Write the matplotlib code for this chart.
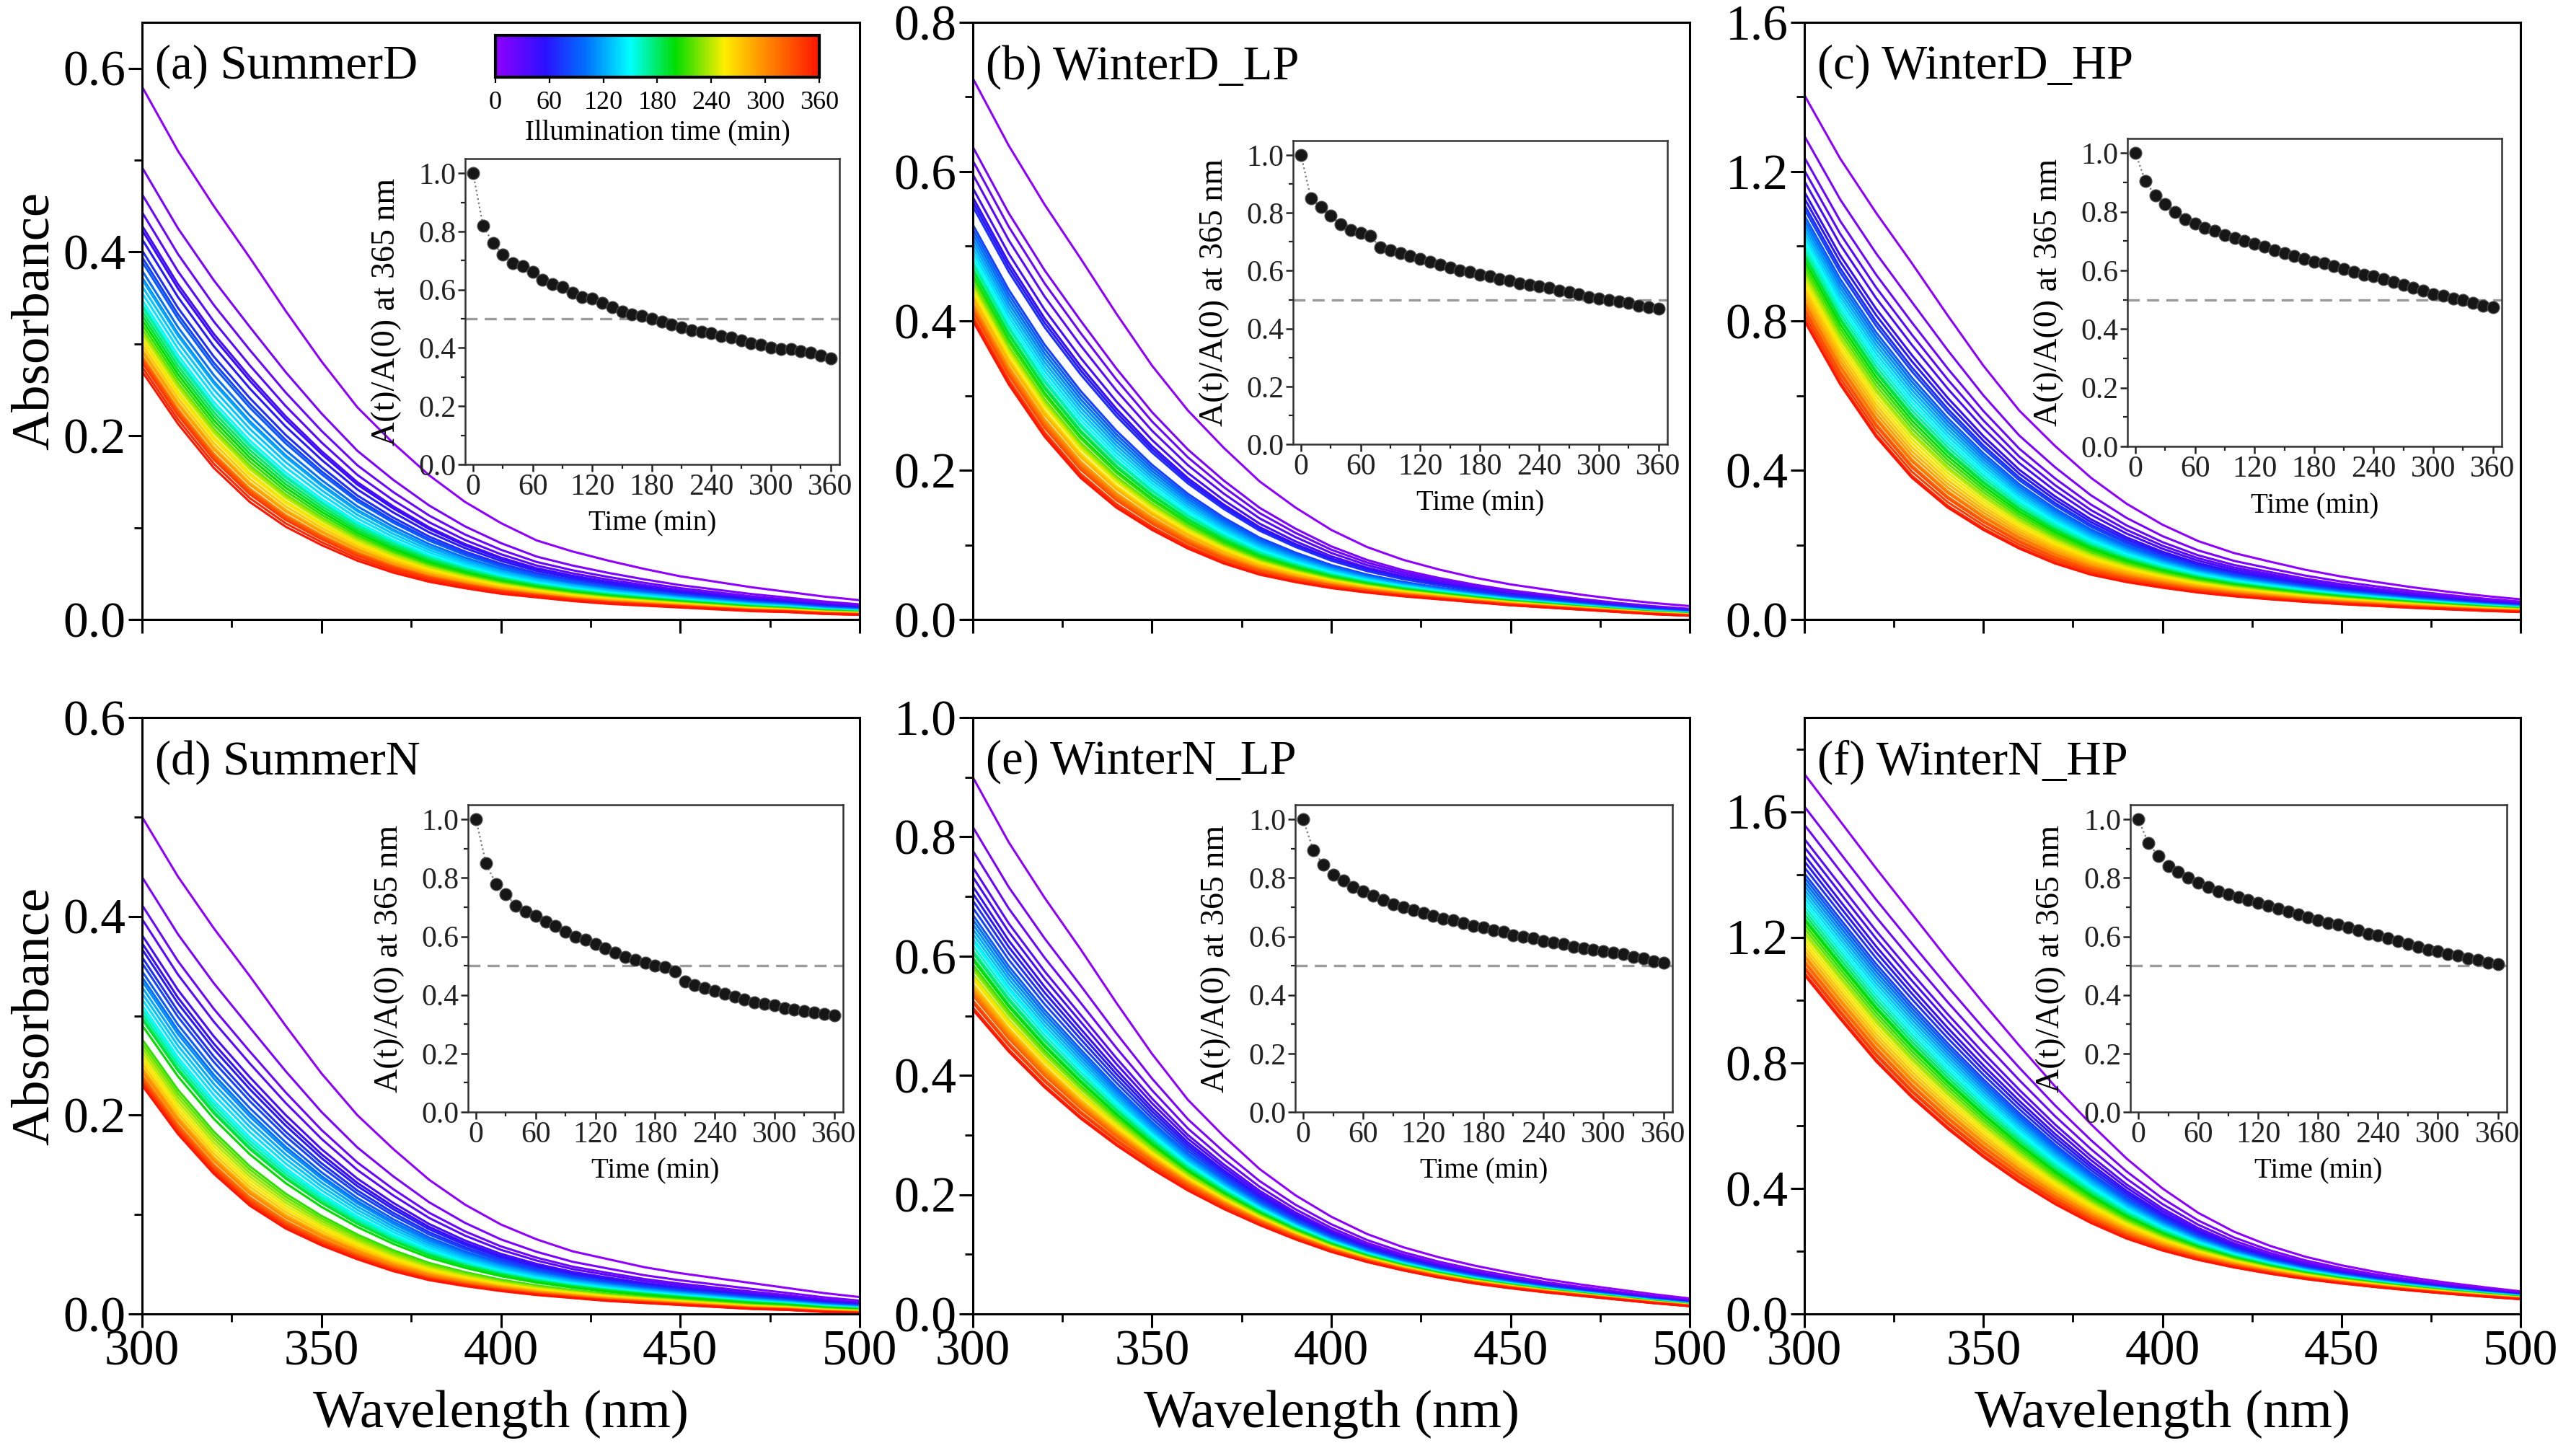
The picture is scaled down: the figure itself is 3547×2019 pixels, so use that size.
import numpy as np
import matplotlib
matplotlib.use('Agg')
import matplotlib.pyplot as plt
from matplotlib.colors import LinearSegmentedColormap, Normalize
from matplotlib.cm import ScalarMappable
from matplotlib.ticker import MultipleLocator, FormatStrFormatter

plt.rcParams['font.family'] = ['Liberation Serif', 'DejaVu Serif']

# wavelength grid (nm) and illumination times (min)
wavelength = [300, 310, 320, 330, 340, 350, 360, 370, 380, 390, 400,
              410, 420, 430, 440, 450, 460, 470, 480, 490, 500]
time_min = list(range(0, 361, 10))

# absorbance spectra: first (0 min) and last (360 min) curve
a_first = [0.58, 0.51, 0.45, 0.394, 0.336, 0.281, 0.231, 0.192, 0.157, 0.128, 0.105,
           0.086, 0.074, 0.064, 0.055, 0.047, 0.041, 0.035, 0.030, 0.025, 0.021]
a_last = [0.27, 0.213, 0.165, 0.128, 0.101, 0.081, 0.064, 0.051, 0.041, 0.034, 0.028,
          0.024, 0.020, 0.017, 0.015, 0.013, 0.011, 0.009, 0.008, 0.006, 0.005]
b_first = [0.725, 0.635, 0.556, 0.484, 0.41, 0.34, 0.28, 0.23, 0.185, 0.15, 0.12,
           0.097, 0.08, 0.067, 0.056, 0.047, 0.04, 0.033, 0.027, 0.022, 0.018]
b_last = [0.40, 0.315, 0.245, 0.19, 0.15, 0.12, 0.095, 0.075, 0.06, 0.05, 0.042,
          0.036, 0.031, 0.027, 0.023, 0.019, 0.016, 0.013, 0.010, 0.007, 0.005]
c_first = [1.405, 1.235, 1.09, 0.955, 0.815, 0.68, 0.56, 0.465, 0.38, 0.31, 0.254,
           0.21, 0.178, 0.155, 0.133, 0.115, 0.10, 0.086, 0.074, 0.063, 0.054]
c_last = [0.80, 0.63, 0.49, 0.38, 0.30, 0.24, 0.19, 0.15, 0.12, 0.10, 0.085,
          0.072, 0.062, 0.054, 0.047, 0.041, 0.036, 0.031, 0.027, 0.023, 0.02]
d_first = [0.50, 0.44, 0.388, 0.34, 0.29, 0.242, 0.20, 0.166, 0.135, 0.11, 0.09,
           0.075, 0.063, 0.055, 0.047, 0.041, 0.036, 0.031, 0.026, 0.021, 0.017]
d_last = [0.23, 0.181, 0.141, 0.109, 0.086, 0.069, 0.055, 0.043, 0.034, 0.028, 0.023,
          0.019, 0.016, 0.013, 0.011, 0.009, 0.007, 0.005, 0.004, 0.002, 0.001]
e_first = [0.90, 0.791, 0.698, 0.612, 0.522, 0.436, 0.359, 0.298, 0.243, 0.199, 0.163,
           0.134, 0.112, 0.095, 0.081, 0.069, 0.058, 0.049, 0.041, 0.033, 0.026]
e_last = [0.51, 0.44, 0.38, 0.328, 0.283, 0.243, 0.207, 0.176, 0.149, 0.125, 0.104,
          0.087, 0.073, 0.061, 0.051, 0.043, 0.036, 0.030, 0.024, 0.018, 0.013]
f_first = [1.72, 1.57, 1.42, 1.275, 1.13, 0.99, 0.855, 0.725, 0.605, 0.495, 0.40,
           0.322, 0.262, 0.217, 0.182, 0.155, 0.133, 0.115, 0.099, 0.085, 0.072]
f_last = [1.08, 0.94, 0.805, 0.69, 0.59, 0.50, 0.42, 0.35, 0.29, 0.24, 0.202,
          0.172, 0.148, 0.128, 0.111, 0.097, 0.085, 0.074, 0.064, 0.055, 0.047]

# A(t)/A(0) at 365 nm (insets), one value per 10 min
a_ratio = [1.0, 0.82, 0.76, 0.72, 0.69, 0.68, 0.66, 0.635, 0.62, 0.61, 0.59, 0.575, 0.57,
           0.555, 0.54, 0.525, 0.515, 0.51, 0.50, 0.49, 0.48, 0.47, 0.46, 0.455, 0.45,
           0.44, 0.435, 0.425, 0.415, 0.41, 0.40, 0.395, 0.395, 0.39, 0.385, 0.375, 0.365]
b_ratio = [1.0, 0.85, 0.82, 0.79, 0.76, 0.74, 0.73, 0.72, 0.68, 0.67, 0.66, 0.65, 0.64,
           0.63, 0.62, 0.61, 0.60, 0.595, 0.585, 0.58, 0.57, 0.565, 0.555, 0.55, 0.545,
           0.54, 0.53, 0.525, 0.52, 0.51, 0.505, 0.50, 0.495, 0.49, 0.48, 0.475, 0.47]
c_ratio = [1.0, 0.905, 0.855, 0.825, 0.80, 0.775, 0.76, 0.745, 0.735, 0.72, 0.71, 0.70, 0.69,
           0.68, 0.67, 0.66, 0.65, 0.64, 0.63, 0.625, 0.615, 0.605, 0.595, 0.585, 0.58,
           0.57, 0.56, 0.55, 0.54, 0.53, 0.52, 0.515, 0.505, 0.50, 0.49, 0.48, 0.475]
d_ratio = [1.0, 0.85, 0.78, 0.745, 0.705, 0.685, 0.67, 0.65, 0.635, 0.615, 0.60, 0.59, 0.575,
           0.56, 0.545, 0.53, 0.52, 0.51, 0.50, 0.495, 0.48, 0.445, 0.435, 0.425, 0.415,
           0.405, 0.395, 0.385, 0.375, 0.37, 0.365, 0.355, 0.35, 0.345, 0.34, 0.335, 0.33]
e_ratio = [1.0, 0.895, 0.845, 0.81, 0.79, 0.77, 0.755, 0.74, 0.725, 0.71, 0.70, 0.69, 0.68,
           0.67, 0.66, 0.655, 0.645, 0.635, 0.63, 0.62, 0.615, 0.605, 0.60, 0.595, 0.585,
           0.58, 0.575, 0.565, 0.56, 0.555, 0.55, 0.545, 0.54, 0.53, 0.525, 0.515, 0.51]
f_ratio = [1.0, 0.92, 0.875, 0.84, 0.82, 0.80, 0.785, 0.77, 0.755, 0.745, 0.735, 0.725, 0.715,
           0.705, 0.695, 0.685, 0.675, 0.665, 0.655, 0.645, 0.64, 0.63, 0.62, 0.61, 0.605,
           0.595, 0.585, 0.575, 0.565, 0.555, 0.55, 0.54, 0.535, 0.525, 0.52, 0.51, 0.505]

titles = ['(a) SummerD', '(b) WinterD_LP', '(c) WinterD_HP',
          '(d) SummerN', '(e) WinterN_LP', '(f) WinterN_HP']
firsts = [a_first, b_first, c_first, d_first, e_first, f_first]
lasts = [a_last, b_last, c_last, d_last, e_last, f_last]
ratios = [a_ratio, b_ratio, c_ratio, d_ratio, e_ratio, f_ratio]
y_top = [0.65, 0.8, 1.6, 0.6, 1.0, 1.9]
y_major = [0.2, 0.2, 0.4, 0.2, 0.2, 0.4]

# rainbow colour scale of the colour bar
cmap = LinearSegmentedColormap.from_list('illum', [
    (0.0, '#8f00ff'), (55/360, '#2b10ff'), (100/360, '#0070ff'), (150/360, '#00ffff'),
    (200/360, '#00dd00'), (255/360, '#ffee00'), (300/360, '#ff8c00'), (1.0, '#ff1500')])
norm = Normalize(0, 360)

W, H = 3548, 2019
def rect(x0, y0, x1, y1):
    return [x0 / W, 1 - y1 / H, (x1 - x0) / W, (y1 - y0) / H]

cols = [(197, 1192), (1349, 2343), (2502, 3495)]
rows = [(31, 859), (995, 1822)]
inset_boxes = [(645, 220, 1164, 644), (1793, 195, 2312, 616), (2950, 192, 3469, 619),
               (649, 1116, 1169, 1542), (1796, 1116, 2319, 1542), (2954, 1116, 3476, 1542)]

fig = plt.figure(figsize=(W / 200, H / 200), dpi=200)

wl = np.array(wavelength)
for i in range(6):
    r, c = divmod(i, 3)
    ax = fig.add_axes(rect(cols[c][0], rows[r][0], cols[c][1], rows[r][1]))
    first = np.array(firsts[i])
    last = np.array(lasts[i])
    ratio = np.array(ratios[i])
    # each intermediate spectrum placed between first and last by the 365 nm ratio
    for k, t in enumerate(time_min):
        w = (ratio[k] - ratio[-1]) / (1 - ratio[-1])
        ax.plot(wl, last + (first - last) * w, color=cmap(norm(t)), lw=1.1,
                solid_joinstyle='round')
    ax.set_xlim(300, 500)
    ax.set_ylim(0, y_top[i])
    ax.xaxis.set_major_locator(MultipleLocator(50))
    ax.xaxis.set_minor_locator(MultipleLocator(25))
    ax.yaxis.set_major_locator(MultipleLocator(y_major[i]))
    ax.yaxis.set_minor_locator(MultipleLocator(y_major[i] / 2))
    ax.yaxis.set_major_formatter(FormatStrFormatter('%.1f'))
    ax.tick_params(which='major', direction='out', length=7, width=1.1, labelsize=25, pad=1)
    ax.tick_params(which='minor', direction='out', length=4, width=1.0)
    for sp in ax.spines.values():
        sp.set_linewidth(1.1)
    if r == 0:
        ax.tick_params(labelbottom=False)
    else:
        ax.set_xlabel('Wavelength (nm)', fontsize=27)
        ax.xaxis.set_label_coords(0.5, -0.127)
    if c == 0:
        ax.set_ylabel('Absorbance', fontsize=27)
        ax.yaxis.set_label_coords(-0.115, 0.5)
    ax.text(0.018, 0.963, titles[i], transform=ax.transAxes, ha='left', va='top',
            fontsize=24)

    # inset: normalised absorbance at 365 nm
    x0, y0, x1, y1 = inset_boxes[i]
    ins = fig.add_axes(rect(x0, y0, x1, y1))
    ins.set_facecolor('white')
    ins.axhline(0.5, color='#9a9a9a', lw=1.2, ls=(0, (5, 3)))
    ins.plot(time_min, ratio, ls=':', color='#777777', lw=0.8)
    ins.plot(time_min, ratio, 'o', ms=6, mfc='#161616', mec='#474747', mew=0.5)
    ins.set_xlim(-8, 369)
    ins.set_ylim(0, 1.05)
    ins.xaxis.set_major_locator(MultipleLocator(60))
    ins.xaxis.set_minor_locator(MultipleLocator(30))
    ins.yaxis.set_major_locator(MultipleLocator(0.2))
    ins.yaxis.set_minor_locator(MultipleLocator(0.1))
    ins.yaxis.set_major_formatter(FormatStrFormatter('%.1f'))
    ins.tick_params(which='major', direction='out', length=3.5, width=0.9, labelsize=15,
                    pad=1, colors='#222222')
    ins.tick_params(which='minor', direction='out', length=2, width=0.8, colors='#222222')
    for sp in ins.spines.values():
        sp.set_linewidth(0.9)
        sp.set_color('#333333')
    ins.set_xlabel('Time (min)', fontsize=14)
    ins.xaxis.set_label_coords(0.5, -0.15)
    ins.set_ylabel('A(t)/A(0) at 365 nm', fontsize=16.5)
    ins.yaxis.set_label_coords(-0.17, 0.5)

# colour bar inside panel (a)
cax = fig.add_axes(rect(687, 49, 1136, 107))
cb = fig.colorbar(ScalarMappable(norm=norm, cmap=cmap), cax=cax, orientation='horizontal',
                  ticks=list(range(0, 361, 60)))
cb.outline.set_linewidth(1.5)
cax.tick_params(direction='out', length=3, width=0.8, labelsize=13, pad=4)
cb.set_label('Illumination time (min)', fontsize=14, labelpad=2)

fig.savefig('out.png', dpi=200)
